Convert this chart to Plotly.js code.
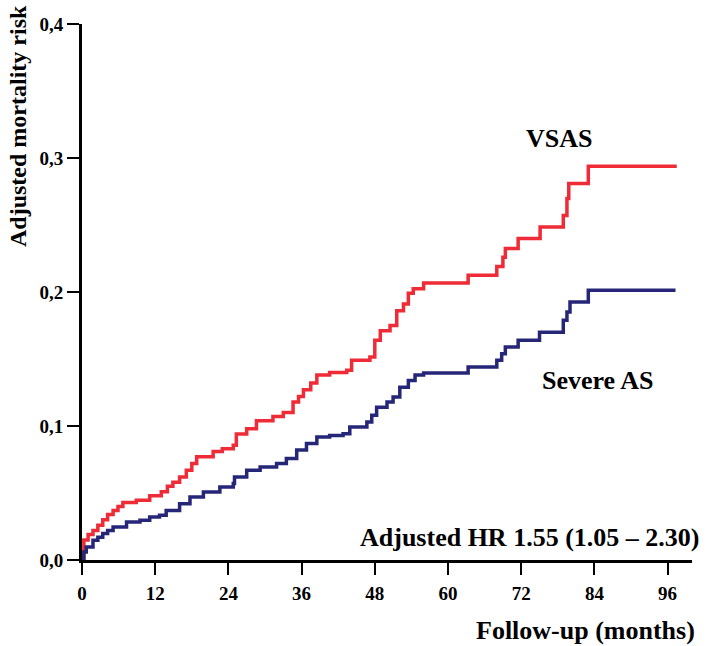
<!DOCTYPE html>
<html>
<head>
<meta charset="utf-8">
<script src="https://cdn.plot.ly/plotly-3.0.1.min.js"></script>
<style>html,body{margin:0;padding:0;background:#fff;}#chart{width:709px;height:646px;}</style>
</head>
<body>
<div id="chart"></div>
<script>
// Follow-up time (months) and adjusted mortality risk, VSAS
const vsasMonths = [0, 0.3, 1.0, 1.8, 2.6, 3.4, 4.2, 5.1, 5.9, 6.7, 8.9, 11.1, 13.0, 14.0, 14.9, 16.0, 17.1, 18.0, 18.8, 21.5, 23.0, 24.8, 25.3, 27.0, 28.6, 31.3, 33.0, 34.6, 35.5, 36.3, 37.5, 38.5, 40.6, 43.4, 44.2, 47.2, 48.0, 48.9, 50.5, 51.6, 52.7, 53.5, 54.3, 56.0, 63.3, 68.0, 69.0, 69.4, 71.5, 75.1, 78.9, 79.5, 79.8, 83.0, 97.5];
const vsasRisk   = [0, 0.015, 0.019, 0.022, 0.026, 0.030, 0.034, 0.037, 0.040, 0.043, 0.0445, 0.048, 0.051, 0.055, 0.058, 0.062, 0.067, 0.072, 0.077, 0.081, 0.083, 0.0856, 0.094, 0.098, 0.104, 0.107, 0.110, 0.118, 0.122, 0.127, 0.132, 0.138, 0.140, 0.1416, 0.149, 0.1515, 0.164, 0.171, 0.175, 0.186, 0.191, 0.199, 0.2025, 0.2067, 0.2125, 0.219, 0.226, 0.2325, 0.240, 0.2485, 0.257, 0.2697, 0.281, 0.2938, 0.2938];
// Severe AS
const sasMonths = [0, 0.3, 0.7, 1.8, 2.6, 3.4, 4.2, 5.1, 7.3, 9.5, 11.1, 12.7, 13.8, 16.0, 17.7, 19.9, 22.6, 24.8, 25.0, 27.0, 29.2, 31.9, 33.5, 35.2, 36.8, 38.5, 40.6, 42.8, 43.9, 46.7, 47.5, 48.3, 50.0, 51.0, 52.1, 53.5, 54.6, 56.0, 63.3, 68.0, 68.8, 69.4, 71.5, 75.0, 78.9, 79.5, 80.0, 83.0, 97.3];
const sasRisk   = [0, 0.006, 0.0097, 0.0147, 0.017, 0.0197, 0.022, 0.0246, 0.0284, 0.0296, 0.032, 0.0334, 0.037, 0.042, 0.047, 0.0507, 0.0545, 0.057, 0.062, 0.067, 0.0694, 0.072, 0.0757, 0.082, 0.0869, 0.0918, 0.093, 0.0943, 0.0993, 0.103, 0.108, 0.114, 0.118, 0.1216, 0.129, 0.134, 0.138, 0.1395, 0.144, 0.149, 0.154, 0.159, 0.164, 0.170, 0.179, 0.185, 0.1925, 0.2013, 0.2013];

const xTickVals = [0, 12, 24, 36, 48, 60, 72, 84, 96];
const xTickLabels = ['0', '12', '24', '36', '48', '60', '72', '84', '96'];
const yTickVals = [0, 0.1, 0.2, 0.3, 0.4];
const yTickLabels = ['0,0', '0,1', '0,2', '0,3', '0,4'];

const seriesNames = ['VSAS', 'Severe AS'];
const hrText = 'Adjusted HR 1.55 (1.05 – 2.30)';
const xTitle = 'Follow-up (months)';
const yTitle = 'Adjusted mortality risk';

const serif = 'Liberation Serif, Times New Roman, serif';
const tickFont = {family: serif, size: 19, color: '#000', weight: 'bold'};
const annFont = {family: serif, size: 26, color: '#000', weight: 'bold'};
const yTitleFont = {family: serif, size: 24, color: '#000', weight: 'bold'};

const traces = [
  {x: vsasMonths, y: vsasRisk, type: 'scatter', mode: 'lines', name: seriesNames[0],
   line: {shape: 'hv', color: '#EE2B36', width: 3.5}},
  {x: sasMonths, y: sasRisk, type: 'scatter', mode: 'lines', name: seriesNames[1],
   line: {shape: 'hv', color: '#262678', width: 3.5}}
];

const layout = {
  width: 709, height: 646,
  margin: {l: 82, r: 17, t: 24, b: 86},
  paper_bgcolor: '#fff', plot_bgcolor: '#fff',
  showlegend: false,
  xaxis: {
    range: [0, 100], tickvals: xTickVals, ticktext: xTickLabels,
    showgrid: false, zeroline: false, showline: true, linecolor: '#000', linewidth: 3,
    ticks: 'outside', ticklen: 12, tickwidth: 2, tickcolor: '#000',
    tickfont: tickFont, ticklabelstandoff: 2
  },
  yaxis: {
    range: [0, 0.4], tickvals: yTickVals, ticktext: yTickLabels,
    showgrid: false, zeroline: false, showline: true, linecolor: '#000', linewidth: 3,
    ticks: 'outside', ticklen: 12, tickwidth: 2, tickcolor: '#000',
    tickfont: tickFont
  },
  annotations: [
    {x: 72.5, y: 0.3147, xref: 'x', yref: 'y', text: seriesNames[0], showarrow: false,
     xanchor: 'left', yanchor: 'middle', font: annFont},
    {x: 84.5, y: 0.134, xref: 'x', yref: 'y', text: seriesNames[1], showarrow: false,
     xanchor: 'center', yanchor: 'middle', font: annFont},
    {x: 1.015, y: 0.017, xref: 'paper', yref: 'y', text: hrText, showarrow: false,
     xanchor: 'right', yanchor: 'middle', font: annFont},
    {x: 695, y: 630, xref: 'paper', yref: 'paper', text: xTitle, showarrow: false,
     xanchor: 'right', yanchor: 'middle', font: annFont},
    {x: 0, y: 0, xref: 'paper', yref: 'paper', text: yTitle, showarrow: false,
     textangle: -90, xanchor: 'center', yanchor: 'middle', font: yTitleFont}
  ]
};

// Convert pixel-placed titles to paper coordinates
const plotW = 709 - 82 - 17, plotH = 646 - 24 - 86;
layout.annotations[3].x = (697 - 82) / plotW;
layout.annotations[3].y = (646 - 86 - 630) / plotH;
layout.annotations[4].x = (18 - 82) / plotW;
layout.annotations[4].y = (646 - 86 - 126) / plotH;

Plotly.newPlot('chart', traces, layout, {displayModeBar: false, staticPlot: true});
</script>
</body>
</html>
